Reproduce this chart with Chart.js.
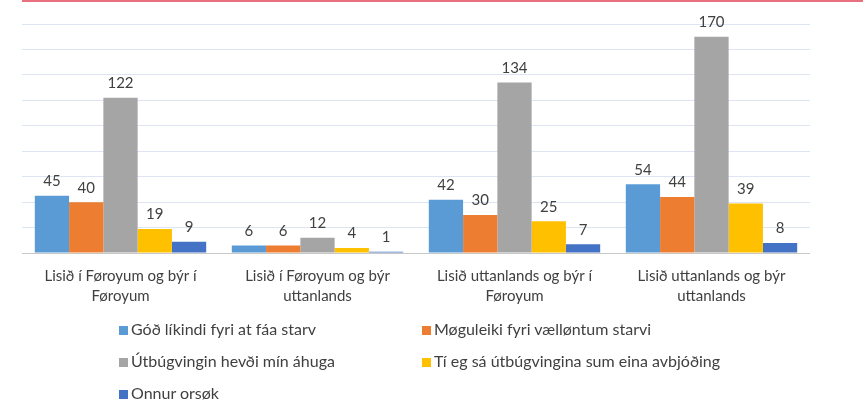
<!DOCTYPE html>
<html>
<head>
<meta charset="utf-8">
<script src="https://cdn.jsdelivr.net/npm/chart.js@4.4.1/dist/chart.umd.min.js"></script>
<style>
  body { margin: 0; background: #fff; font-family: Lato, "Liberation Sans", sans-serif; }
  #wrap { position: relative; width: 863px; height: 401px; overflow: hidden; }
  #topline { position: absolute; left: 22px; right: 0; top: 0; height: 2px; background: #e8707f; }
  #chartbox { position: absolute; left: 0; top: 0; width: 863px; height: 324px; }
  #legend { position: absolute; left: 119px; top: 318px; width: 660px; display: grid;
            grid-template-columns: 303px 320px; row-gap: 10px; font-size: 16px; color: #404040; }
  #legend div { height: 22px; line-height: 22px; white-space: nowrap; }
  #legend span { display: inline-block; width: 9px; height: 9px; margin-right: 3px; vertical-align: 0px; }
</style>
</head>
<body>
<div id="wrap">
  <div id="topline"></div>
  <div id="chartbox"><canvas id="myChart" width="863" height="324"></canvas></div>
  <div id="legend"></div>
</div>
<script>
var categories = [
  ["Lisið í Føroyum og býr í", "Føroyum"],
  ["Lisið í Føroyum og býr", "uttanlands"],
  ["Lisið uttanlands og býr í", "Føroyum"],
  ["Lisið uttanlands og býr", "uttanlands"]
];
var seriesNames = [
  "Góð líkindi fyri at fáa starv",
  "Møguleiki fyri vælløntum starvi",
  "Útbúgvingin hevði mín áhuga",
  "Tí eg sá útbúgvingina sum eina avbjóðing",
  "Onnur orsøk"
];
var goodChance = [45, 6, 42, 54];
var wellPaid = [40, 6, 30, 44];
var interest = [122, 12, 134, 170];
var challenge = [19, 4, 25, 39];
var otherReason = [9, 1, 7, 8];
var colors = ["#5b9bd5", "#ed7d31", "#a5a5a5", "#ffc000", "#4472c4"];

var allValues = [goodChance, wellPaid, interest, challenge, otherReason];
var datasets = [];
for (var i = 0; i < allValues.length; i++) {
  datasets.push({
    label: seriesNames[i],
    data: allValues[i],
    backgroundColor: colors[i],
    borderWidth: 0
  });
}

// numbers above each bar
var valueLabels = {
  id: "valueLabels",
  afterDatasetsDraw: function(chart) {
    var ctx = chart.ctx;
    ctx.save();
    ctx.font = "15px Lato";
    ctx.fillStyle = "#404040";
    ctx.textAlign = "center";
    ctx.textBaseline = "bottom";
    chart.data.datasets.forEach(function(ds, di) {
      var meta = chart.getDatasetMeta(di);
      meta.data.forEach(function(bar, j) {
        ctx.fillText(ds.data[j], bar.x, bar.y - 7);
      });
    });
    ctx.restore();
  }
};

var chart = new Chart(document.getElementById("myChart").getContext("2d"), {
  type: "bar",
  data: { labels: categories, datasets: datasets },
  options: {
    responsive: false,
    animation: false,
    layout: { padding: { left: 22, right: 53, top: 24, bottom: 5 } },
    plugins: { legend: { display: false }, tooltip: { enabled: false } },
    datasets: { bar: { categoryPercentage: 0.87, barPercentage: 1 } },
    scales: {
      x: {
        grid: { display: false, drawTicks: false },
        border: { display: false },
        ticks: { padding: 13, color: "#404040", font: { family: "Lato", size: 15, lineHeight: 1.33 } }
      },
      y: {
        min: 0, max: 180,
        ticks: { display: false, stepSize: 20 },
        border: { display: false },
        grid: {
          drawTicks: false,
          color: function(c) { return c.tick.value === 0 ? "#c8c8c8" : "#dde5f2"; },
          lineWidth: 1
        }
      }
    }
  },
  plugins: [valueLabels]
});

var legend = document.getElementById("legend");
chart.data.datasets.forEach(function(ds) {
  var d = document.createElement("div");
  var s = document.createElement("span");
  s.style.background = ds.backgroundColor;
  d.appendChild(s);
  d.appendChild(document.createTextNode(ds.label));
  legend.appendChild(d);
});
</script>
</body>
</html>
